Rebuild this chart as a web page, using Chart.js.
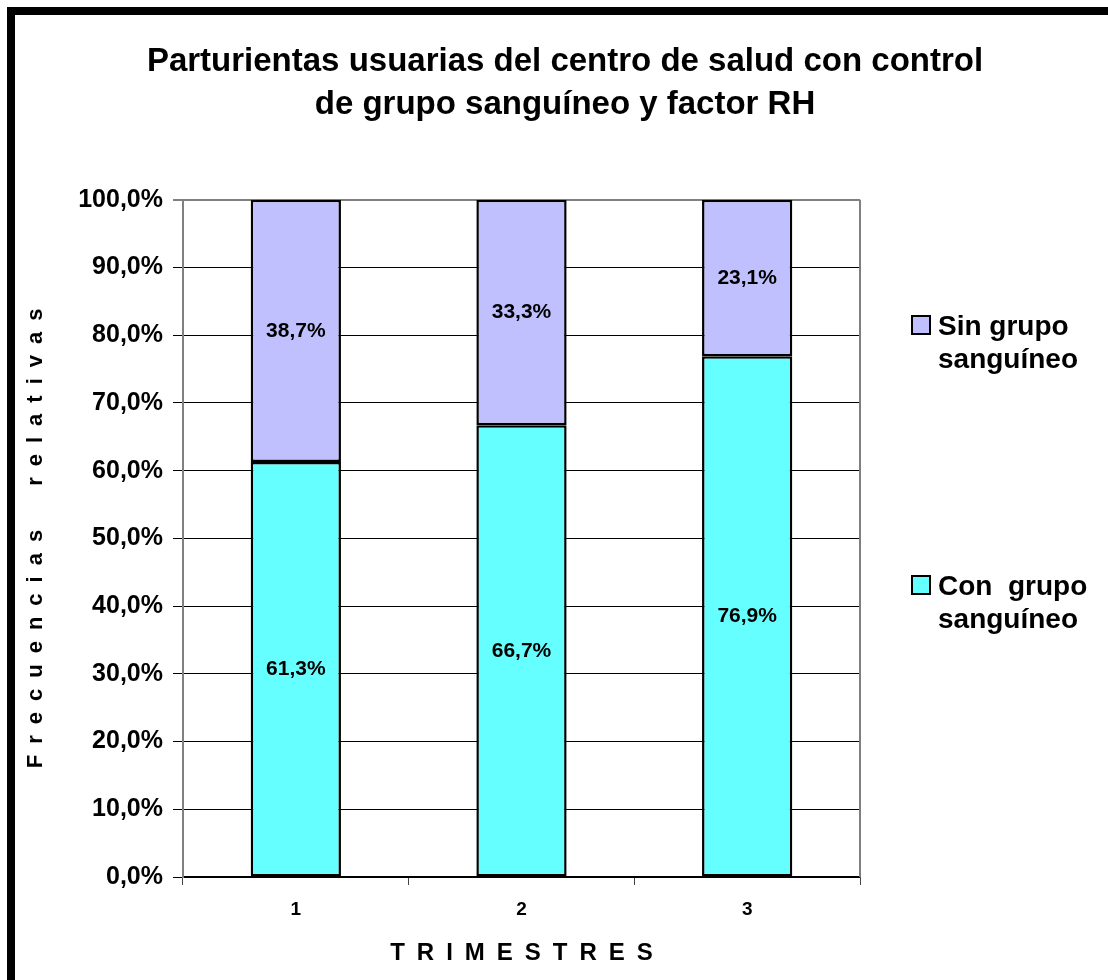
<!DOCTYPE html>
<html>
<head>
<meta charset="utf-8">
<script src="https://cdn.jsdelivr.net/npm/chart.js@4.4.0/dist/chart.umd.min.js"></script>
<style>
  html, body { margin: 0; padding: 0; background: #fff; overflow: hidden; }
  #wrap { position: relative; width: 1108px; height: 980px; }
  #c { position: absolute; left: 22px; top: 0; }
  #frame { position: absolute; left: 7px; top: 7px; right: 0; bottom: 0;
           border-left: 8px solid #000; border-top: 8px solid #000; pointer-events: none; }
</style>
</head>
<body>
<div id="wrap">
  <canvas id="c" width="1086" height="980"></canvas>
  <div id="frame"></div>
</div>
<script>
// ---- data ----
const categories = ['1', '2', '3'];
const conGrupo = [61.3, 66.7, 76.9];
const sinGrupo = [38.7, 33.3, 23.1];
const seriesLabels = ['Con grupo sanguíneo', 'Sin grupo sanguíneo'];
const legendLines = [['Con  grupo', 'sanguíneo'], ['Sin grupo', 'sanguíneo']];
const titleLines = ['Parturientas usuarias del centro de salud con control', 'de grupo sanguíneo y factor RH'];
const yTitle = 'Frecuencias relativas';
const xTitle = 'TRIMESTRES';
const yTicks = [0, 10, 20, 30, 40, 50, 60, 70, 80, 90, 100];

const FONT = "'Liberation Sans', Arial, sans-serif";
const EN = '\u2002';
function spaced(s) {
  return s.split(' ').map(w => w.split('').join(EN)).join(EN + EN + EN + EN);
}
function fmt(v) { return v.toFixed(1).replace('.', ',') + '%'; }

const colors = ['#66FFFF', '#C0C0FF'];

const labelPlugin = {
  id: 'segLabels',
  beforeDatasetsDraw(chart) {
    const {ctx, chartArea} = chart;
    ctx.save();
    ctx.strokeStyle = '#808080';
    ctx.lineWidth = 2;
    ctx.beginPath();
    ctx.moveTo(chartArea.right, chartArea.top);
    ctx.lineTo(chartArea.right, chartArea.bottom);
    ctx.stroke();
    ctx.restore();
  },
  afterDatasetsDraw(chart) {
    const ctx = chart.ctx;
    ctx.save();
    ctx.font = 'bold 21px ' + FONT;
    ctx.fillStyle = '#000';
    ctx.textAlign = 'center';
    ctx.textBaseline = 'middle';
    chart.data.datasets.forEach((ds, i) => {
      const meta = chart.getDatasetMeta(i);
      meta.data.forEach((el, j) => {
        const p = el.getProps(['x', 'y', 'base'], true);
        ctx.fillText(fmt(ds.data[j]), p.x, (p.y + p.base) / 2);
      });
    });
    ctx.restore();
  },
  afterDraw(chart) {
    const ctx = chart.ctx;
    ctx.save();
    const items = [
      {ds: 1, boxY: 316, base: 335},
      {ds: 0, boxY: 576, base: 595}
    ];
    items.forEach(it => {
      const ds = chart.data.datasets[it.ds];
      ctx.fillStyle = ds.backgroundColor;
      ctx.fillRect(890, it.boxY, 18, 18);
      ctx.strokeStyle = '#000';
      ctx.lineWidth = 2;
      ctx.strokeRect(890, it.boxY, 18, 18);
      ctx.fillStyle = '#000';
      ctx.font = 'bold 28px ' + FONT;
      ctx.textAlign = 'left';
      ctx.textBaseline = 'alphabetic';
      legendLines[it.ds].forEach((line, k) => {
        ctx.fillText(line, 916, it.base + k * 33);
      });
    });
    ctx.restore();
  }
};

new Chart(document.getElementById('c'), {
  type: 'bar',
  data: {
    labels: categories,
    datasets: [
      { label: seriesLabels[0], data: conGrupo, backgroundColor: colors[0], borderColor: '#000',
        borderWidth: 2.5, borderSkipped: false, inflateAmount: 0, barPercentage: 0.4, categoryPercentage: 1 },
      { label: seriesLabels[1], data: sinGrupo, backgroundColor: colors[1], borderColor: '#000',
        borderWidth: 2.5, borderSkipped: false, inflateAmount: 0, barPercentage: 0.4, categoryPercentage: 1 }
    ]
  },
  options: {
    responsive: false,
    animation: false,
    layout: { padding: 0 },
    plugins: {
      legend: { display: false },
      tooltip: { enabled: false },
      title: {
        display: true,
        text: titleLines,
        color: '#000',
        font: { family: FONT, size: 33, weight: 'bold', lineHeight: 1.3 },
        padding: { top: 40.5, bottom: 73.5 }
      }
    },
    scales: {
      x: {
        stacked: true,
        offset: true,
        grid: { display: true, drawOnChartArea: false, drawTicks: true, tickLength: 8, tickColor: '#444', tickWidth: 1 },
        border: { display: true, color: '#000', width: 1.5 },
        ticks: { color: '#000', font: { family: FONT, size: 19, weight: 'bold' }, padding: 13 },
        title: { display: true, text: spaced(xTitle), color: '#000',
                 font: { family: FONT, size: 24, weight: 'bold' }, padding: { top: 0, bottom: 12.6 } },
        afterFit(s) { s.height = 103; }
      },
      y: {
        stacked: true,
        min: 0,
        max: 100,
        afterBuildTicks(s) { s.ticks = yTicks.map(v => ({ value: v })); },
        grid: {
          color: c => (c.tick && c.tick.value === 100 ? '#808080' : '#000'),
          lineWidth: c => (c.tick && c.tick.value === 100 ? 2 : 1),
          tickColor: '#000',
          tickLength: 10,
          tickWidth: 1
        },
        border: { display: true, color: '#808080', width: 2 },
        ticks: { color: '#000', font: { family: FONT, size: 25, weight: 'bold' }, padding: 10,
                 callback: v => fmt(v) },
        title: { display: true, text: spaced(yTitle), color: '#000',
                 font: { family: FONT, size: 22, weight: 'bold' }, padding: { top: 1, bottom: 0 } },
        afterFit(s) { s.width = 161; }
      },
      spacer: {
        type: 'linear',
        position: 'right',
        display: true,
        grid: { display: false, drawTicks: false },
        border: { display: false },
        ticks: { display: false },
        afterFit(s) { s.width = 248; }
      }
    }
  },
  plugins: [labelPlugin]
});
</script>
</body>
</html>
